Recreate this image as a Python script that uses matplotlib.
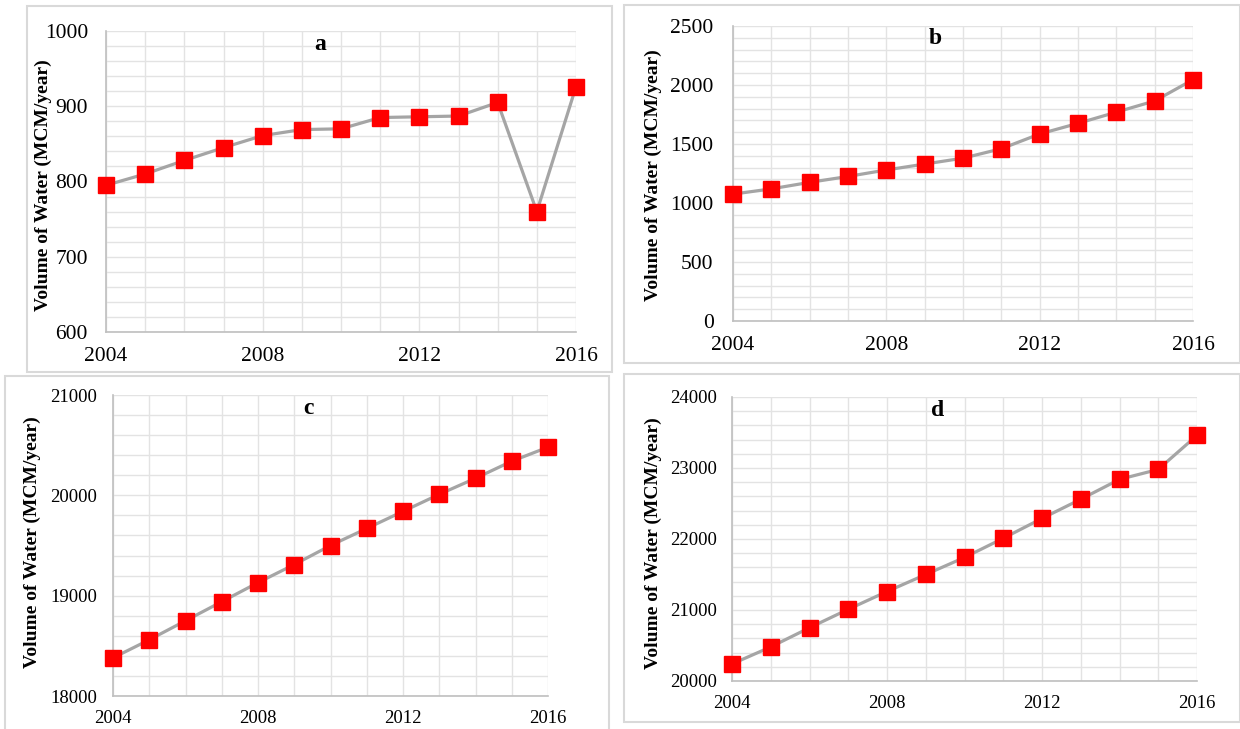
"""Volume of water 2004-2016, four panels (a-d)"""
import matplotlib
matplotlib.use('Agg')
import matplotlib.pyplot as plt
from matplotlib.patches import Rectangle
from matplotlib.ticker import MultipleLocator

plt.rcParams['font.family'] = ['Liberation Serif', 'DejaVu Serif']

years = list(range(2004, 2017))

vol_a = [795, 810, 828, 845, 861, 869, 870, 885, 886, 887, 905, 760, 926]
vol_b = [1075, 1120, 1175, 1225, 1280, 1330, 1380, 1460, 1585, 1675, 1770, 1865, 2045]
vol_c = [18380, 18560, 18750, 18940, 19130, 19310, 19500, 19670, 19840, 20010, 20170, 20340, 20480]
vol_d = [20240, 20480, 20750, 21010, 21260, 21500, 21740, 22010, 22290, 22560, 22840, 22980, 23460]

W, H = 1240, 729
fig = plt.figure(figsize=(W / 100, H / 100), dpi=100)


def px_axes(x0, y0, x1, y1):
    # pixel box (top-left origin) -> figure fraction
    return fig.add_axes([x0 / W, 1 - y1 / H, (x1 - x0) / W, (y1 - y0) / H])


def frame(x0, y0, x1, y1):
    fig.patches.append(Rectangle((x0 / W, 1 - y1 / H), (x1 - x0) / W, (y1 - y0) / H,
                                 transform=fig.transFigure, fill=False,
                                 edgecolor='#d9d9d9', linewidth=1.5))


panels = [
    # letter, data, plot box px, frame px, ylim, major, minor, tick font, y pad,
    # ylabel x/y, letter x
    ('a', vol_a, (106, 31, 576, 332), (27, 6, 612, 372), (600, 1000), 100, 20, 15.5, 13, 43, 185, 320),
    ('b', vol_b, (733, 26, 1193, 321), (624, 5, 1240, 363), (0, 2500), 500, 100, 15.5, 14, 653, 175, 935),
    ('c', vol_c, (113, 395, 548, 696), (5, 376, 609, 732), (18000, 21000), 1000, 200, 13.5, 11.5, 32, 542, 308),
    ('d', vol_d, (732, 397, 1197, 681), (624, 374, 1240, 722), (20000, 24000), 1000, 200, 13.5, 11, 653, 543, 938),
]

for letter, vals, box, fr, ylim, major, minor, fs, ypad, ylx, yly, lx in panels:
    frame(*fr)
    ax = px_axes(*box)
    ax.plot(years, vals, '-', color='#a5a5a5', linewidth=2.3, zorder=3, clip_on=False)
    ax.plot(years, vals, 's', color='#ff0000', markersize=11, zorder=4, clip_on=False)
    ax.set_xlim(2004, 2016)
    ax.set_ylim(*ylim)
    ax.xaxis.set_major_locator(MultipleLocator(4))
    ax.xaxis.set_minor_locator(MultipleLocator(1))
    ax.yaxis.set_major_locator(MultipleLocator(major))
    ax.yaxis.set_minor_locator(MultipleLocator(minor))
    ax.grid(True, which='both', color='#e3e3e3', linewidth=1.0, zorder=0)
    ax.set_axisbelow(True)
    for s in ['top', 'right']:
        ax.spines[s].set_visible(False)
    for s in ['left', 'bottom']:
        ax.spines[s].set_color('#bfbfbf')
        ax.spines[s].set_linewidth(1.2)
    ax.tick_params(which='both', length=0, labelsize=fs)
    ax.tick_params(axis='x', pad=10.5 if fs > 14 else 10)
    ax.tick_params(axis='y', pad=ypad)
    fig.text(lx / W, 1 - (box[1] + 13) / H, letter, ha='center', va='center',
             fontsize=17, fontweight='bold')
    fig.text(ylx / W, 1 - yly / H, 'Volume of Water (MCM/year)',
             rotation=90, ha='center', va='center', fontsize=14, fontweight='bold')

plt.savefig('out.png', dpi=100)
